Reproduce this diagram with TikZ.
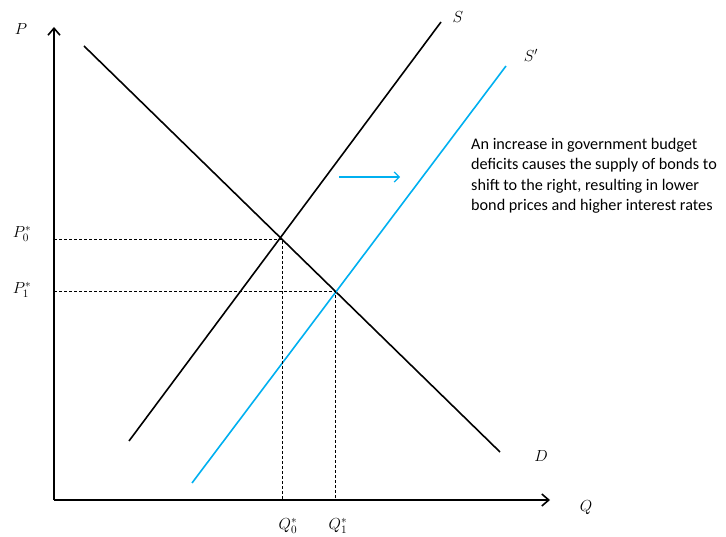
\RequirePackage{fix-cm}
\documentclass[tikz,border=0pt]{standalone}
\usepackage{fontspec}
\setmainfont{Carlito}
\usetikzlibrary{arrows.meta}
\definecolor{sblue}{RGB}{0,176,240}
\begin{document}
\begin{tikzpicture}[x=1pt,y=-1pt,
  axis/.style={line width=1.6pt,-{Straight Barb[length=7pt,width=12pt,line width=1.6pt]}},
  curve/.style={line width=1.6pt},
  guide/.style={line width=0.7pt,dash pattern=on 3pt off 2pt},
  lbl/.style={font=\fontsize{16}{19}\selectfont,inner sep=0pt}]
\useasboundingbox (0,0) rectangle (726,537);
% axes
\coordinate (O) at (54,500);
\coordinate (Ptop) at (54,27);
\coordinate (Qend) at (550,500);
\draw[axis] (O) -- (Ptop);
\draw[axis] (O) -- (Qend);
\node[lbl] (Plab) at (21,29) {$P$};
\node[lbl] (Qlab) at (586,508) {$Q$};
% curves
\coordinate (D1) at (84,46);
\coordinate (D2) at (500,452);
\coordinate (S1) at (129,441);
\coordinate (S2) at (441,22);
\coordinate (T1) at (192,483);
\coordinate (T2) at (506,66);
\draw[curve] (D1) -- (D2);
\draw[curve] (S1) -- (S2);
\draw[curve,sblue] (T1) -- (T2);
\node[lbl] (Slab) at (458,17) {$S$};
\node[lbl] (Tlab) at (531,55) {$S'$};
\node[lbl] (Dlab) at (541,456) {$D$};
% equilibria
\coordinate (E0) at (282,239);
\coordinate (E1) at (335,291);
\coordinate (P0) at (54,239);
\coordinate (P1) at (54,291);
\coordinate (Q0) at (282,500);
\coordinate (Q1) at (335,500);
\draw[guide] (P0) -- (E0) -- (Q0);
\draw[guide] (P1) -- (E1) -- (Q1);
\node[lbl] (P0lab) at (22,234) {$P_0^*$};
\node[lbl] (P1lab) at (22,290) {$P_1^*$};
\node[lbl] (Q0lab) at (288,526) {$Q_0^*$};
\node[lbl] (Q1lab) at (338,526) {$Q_1^*$};
% shift arrow
\coordinate (A1) at (339,177);
\coordinate (A2) at (400,177);
\draw[sblue,line width=1.2pt,-{Straight Barb[length=5pt,width=10pt,line width=1.2pt]}] (A1) -- (A2);
% note
\node[font=\fontsize{16.2}{20.5}\selectfont,align=left,anchor=north west,inner sep=0pt] (note) at (471,138)
 {An increase in government budget\\deficits causes the supply of bonds to\\shift to the right, resulting in lower\\bond prices and higher interest rates};
\end{tikzpicture}
\end{document}
